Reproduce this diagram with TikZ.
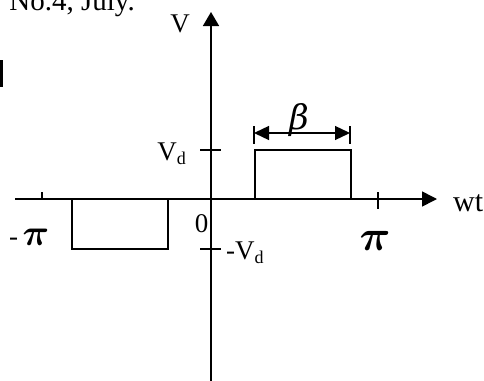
\documentclass[tikz,border=0pt]{standalone}
\usepackage{graphicx}
\usepackage{bm}
\usepackage{fontspec}
\setmainfont{Liberation Serif}
\newfontfamily\grk{DejaVu Serif}
\usetikzlibrary{arrows.meta}
\newcommand\Vsub{V\raisebox{-4pt}{\fontsize{18}{18}\selectfont d}}
\newcommand\bigpi[1]{{\fontsize{10}{12}\selectfont\scalebox{#1}{$\bm{\pi}$}}}
\begin{document}
\begin{tikzpicture}[x=1pt,y=-1pt,
  lbl/.style={inner sep=0pt, font=\fontsize{27}{30}\selectfont},
  axis/.style={line width=1.6pt},
  pulse/.style={line width=1.3pt},
  tk/.style={line width=1.3pt},
  dim/.style={line width=1.3pt,{Triangle[length=15pt,width=14pt]}-{Triangle[length=15pt,width=14pt]}}]
\useasboundingbox (0,0) rectangle (484,380);
% page fragments
\node[inner sep=0pt, anchor=base east, font=\fontsize{29}{32}\selectfont] (hdr) at (135,10) {No.4, July.};
\fill (0,60) rectangle (2.6,87);
% axes
\coordinate (yb) at (211,382);
\coordinate (yt) at (211,12);
\coordinate (xl) at (15,199);
\coordinate (xr) at (437,199);
\draw[axis,-{Triangle[length=14pt,width=16pt]}] (yb) -- (yt);
\draw[axis,-{Triangle[length=15pt,width=15pt]}] (xl) -- (xr);
% ticks
\draw[tk] (200,150) -- (221,150);
\draw[tk] (200,249) -- (221,249);
\draw[tk] (42,192) -- (42,199);
\draw[tk] (378,192) -- (378,209);
% pulses
\coordinate (p1) at (255,199);
\coordinate (p2) at (351,150);
\draw[pulse] (p1) |- (p2) -- (p2 |- p1);
\coordinate (n1) at (72,199);
\coordinate (n2) at (168,249);
\draw[pulse] (n1) |- (n2) -- (n2 |- n1);
% beta dimension
\coordinate (b1) at (254,133);
\coordinate (b2) at (350,133);
\draw[dim] (b1) -- (b2);
\draw[tk] (254,126) -- (254,144);
\draw[tk] (350,126) -- (350,144);
\node[inner sep=0pt, font=\fontsize{34}{36}\grk\itshape, anchor=base] (beta) at (299,129) {β};
% labels
\node[lbl, anchor=base] (vl) at (180,32) {V};
\node[lbl, anchor=base east] (vd) at (186,160) {\Vsub};
\node[lbl, anchor=base] (zero) at (201.5,232) {0};
\node[lbl, anchor=base west] (mvd) at (226,259) {-\Vsub};
\node[inner sep=0pt, anchor=base west, font=\fontsize{30}{32}\selectfont] (wt) at (453,211) {wt};
\node[lbl, anchor=base west] (mpi) at (9,245) {-\,\bigpi{3.7}};
\node[inner sep=0pt, anchor=base] (pi) at (375,250) {\bigpi{4.3}};
\end{tikzpicture}
\end{document}
